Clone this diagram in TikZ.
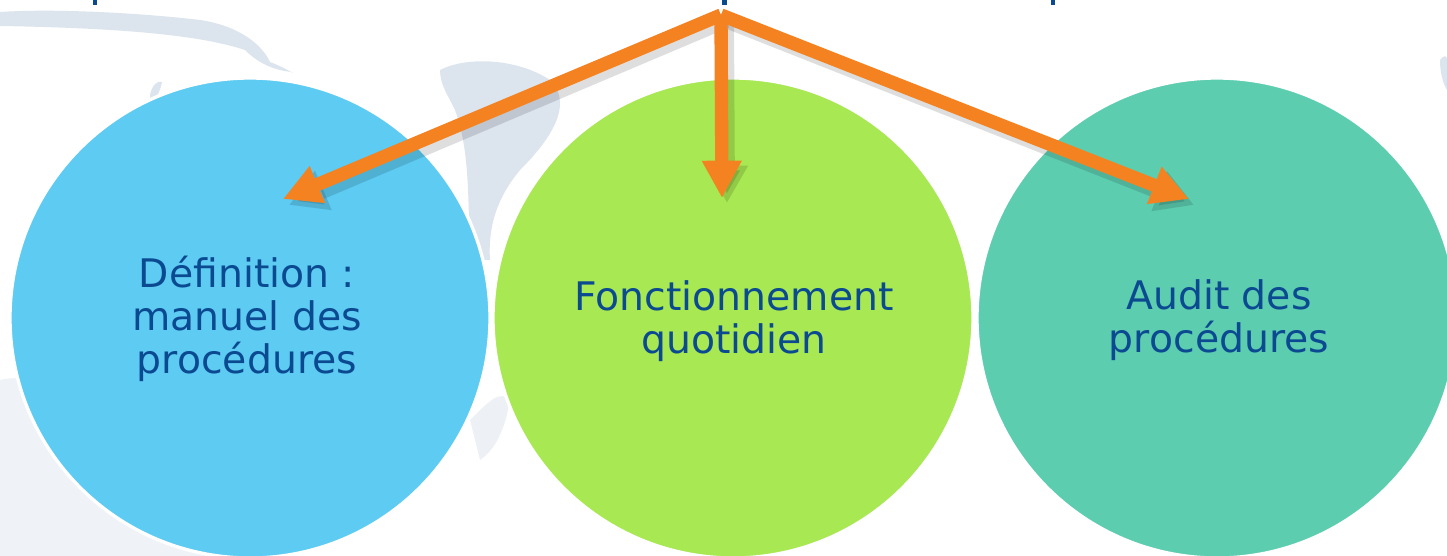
\documentclass[tikz,border=0pt]{standalone}
\usepackage{fontspec}
\setmainfont{DejaVu Sans}
\usetikzlibrary{arrows.meta}
\definecolor{cblue}{HTML}{5DCBF2}
\definecolor{cgreen}{HTML}{A8E852}
\definecolor{cteal}{HTML}{5DCDB0}
\definecolor{ctext}{HTML}{0B4A91}
\definecolor{corange}{HTML}{F58220}
\definecolor{cwater}{HTML}{DCE4EE}
\tikzset{
  bubble/.style={circle, draw=white, line width=2.5pt, minimum size=360pt, inner sep=0pt},
  lbl/.style={text=ctext, align=center, inner sep=0pt, font=\fontsize{29.5}{32.3}\selectfont},
  flow/.style={draw=corange, line width=10pt, -{Triangle[length=28pt,width=28pt]}},
  flowshadow/.style={draw=black, opacity=0.13, line width=12pt, -{Triangle[length=28pt,width=30pt]}},
  titlemark/.style={fill=ctext, draw=none},
  water/.style={fill=cwater, draw=none}
}
\begin{document}
\begin{tikzpicture}[x=0.75pt, y=-0.75pt]
\useasboundingbox (0,0) rectangle (1447,556);
\fill[white] (0,0) rectangle (1447,556);
% faint background watermark
\fill[water] (0,12) .. controls (60,8) and (150,14) .. (200,20) .. controls (240,26) and (262,45) .. (270,62)
  .. controls (290,70) and (295,75) .. (292,72) .. controls (270,70) and (255,60) .. (245,50)
  .. controls (200,35) and (120,28) .. (0,26) -- cycle;
\fill[water] (150,95) .. controls (152,85) and (158,80) .. (162,82) .. controls (160,92) and (156,100) .. (150,100) -- cycle;
\fill[water] (440,70) .. controls (470,55) and (520,60) .. (550,80) .. controls (570,100) and (560,130) .. (520,170)
  .. controls (495,200) and (488,230) .. (490,260) -- (470,260) .. controls (468,200) and (470,150) .. (455,110)
  .. controls (448,95) and (440,85) .. (440,70) -- cycle;
\fill[water] (1440,60) .. controls (1444,55) and (1447,55) .. (1447,60) -- (1447,90) .. controls (1444,85) and (1440,75) .. (1440,60) -- cycle;
\fill[water, opacity=0.45] (0,380) .. controls (40,370) and (100,400) .. (140,470) .. controls (170,520) and (200,540) .. (240,556)
  -- (0,556) -- cycle;
\fill[water, opacity=0.5] (470,420) .. controls (490,400) and (500,390) .. (510,400) .. controls (505,430) and (495,450) .. (480,460) -- cycle;
% descenders of the cut-off title
\fill[titlemark] (93,0) rectangle (97,5);
\fill[titlemark] (722,0) rectangle (727,5);
\fill[titlemark] (1051,0) rectangle (1055,5);
% circles
\node[bubble, fill=cblue] (c1) at (250,318) {};
\node[bubble, fill=cgreen] (c2) at (733,318) {};
\node[bubble, fill=cteal] (c3) at (1217,318) {};
% labels
\node[lbl] (t1) at (247,319) {Définition :\\manuel des\\procédures};
\node[lbl] (t2) at (734,321) {Fonctionnement\\quotidien};
\node[lbl] (t3) at (1219,320) {Audit des\\procédures};
% arrows
\coordinate (apex) at (721,15);
\coordinate (tipl) at (283,199);
\coordinate (tipm) at (722,198);
\coordinate (tipr) at (1189,199);
\coordinate (sapex) at (726,20);
\coordinate (stipl) at (289,205);
\coordinate (stipm) at (727,203);
\coordinate (stipr) at (1194,205);
\draw[flowshadow] (sapex) -- (stipl);
\draw[flowshadow] (sapex) -- (stipm);
\draw[flowshadow] (sapex) -- (stipr);
\draw[flow] (apex) -- (tipl);
\draw[flow] (apex) -- (tipr);
\draw[flow] (apex) -- (tipm);
\end{tikzpicture}
\end{document}
